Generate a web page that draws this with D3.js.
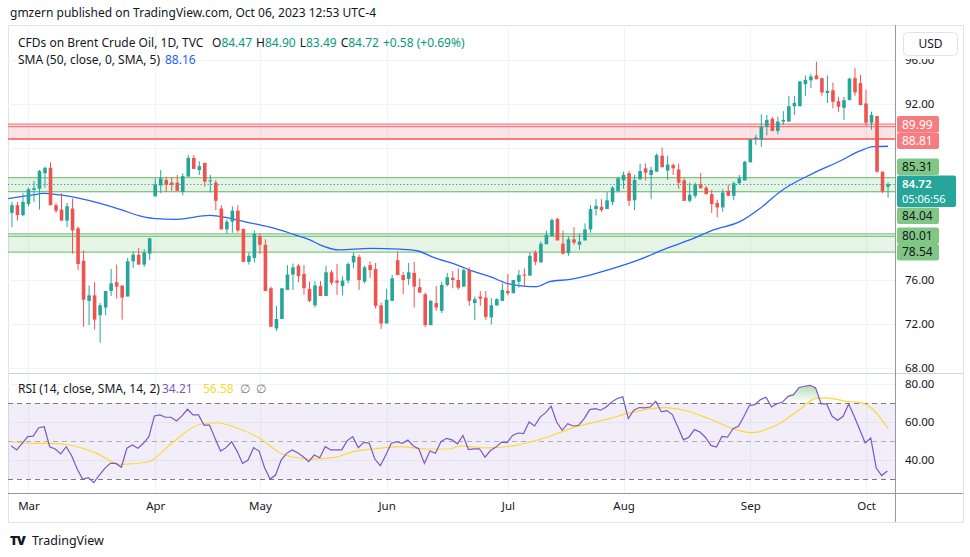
<!DOCTYPE html>
<html><head><meta charset="utf-8">
<script src="https://cdn.jsdelivr.net/npm/d3@7"></script>
<style>
body{margin:0;background:#fff;}
svg{display:block;font-family:"Noto Sans","Open Sans",sans-serif;}
</style>
</head><body>
<svg id="c" width="970" height="557"></svg>
<script>
// ---------------- DATA ----------------
const openP = [82.1,82.8,81.9,82.9,84.2,84.3,85.7,86.2,82.8,82.4,81.4,82.5,80.7,77.75,74.1,74.6,72.8,73.5,75.0,75.8,
75.5,74.5,77.7,78.3,77.4,78.4,83.6,84.6,85.1,84.85,84.85,84.0,85.4,87.1,86.0,86.65,85.0,84.85,82.5,80.6,
81.3,82.3,80.65,77.65,78.0,80.0,79.2,75.25,71.6,72.45,75.1,76.5,77.3,76.55,75.2,73.7,75.45,74.55,76.7,75.95,
75.45,75.95,77.6,78.1,75.85,77.35,77.0,73.7,72.05,74.1,77.8,76.45,76.1,76.65,75.35,74.7,71.9,73.9,73.2,75.55,
76.2,76.0,75.4,76.9,73.9,74.5,74.4,72.6,73.7,74.1,75.0,74.8,75.85,76.5,76.4,78.5,77.6,79.25,80.0,81.55,
79.3,78.45,79.7,79.2,79.6,80.6,82.45,82.65,82.45,83.1,84.1,85.05,85.7,83.25,85.15,86.15,85.55,85.85,87.3,85.95,
86.45,86.05,85.05,83.2,83.65,84.7,84.4,83.8,83.0,82.6,84.1,83.65,84.8,85.05,86.7,88.8,88.75,89.95,90.65,89.55,
90.4,90.4,91.8,91.8,93.8,94.15,94.6,94.35,93.0,93.25,92.25,91.65,92.35,94.35,93.9,92.05,90.3,90.9,85.85,84.47];
const highP = [83.1,83.1,83.9,84.4,85.0,86.0,86.3,86.7,83.0,83.9,83.0,83.4,80.85,78.7,75.5,75.8,73.9,75.0,77.0,77.4,
75.5,78.0,78.6,78.9,78.8,79.8,85.25,86.0,85.4,85.35,85.55,85.7,87.35,87.35,86.8,86.65,85.55,85.1,82.8,81.5,
82.7,82.8,80.65,78.5,80.5,80.25,79.7,75.4,73.65,75.25,77.35,77.5,77.45,77.35,75.85,75.9,75.9,77.3,76.9,77.45,
76.35,77.6,78.5,78.3,77.3,77.7,77.55,73.95,75.2,76.45,78.6,76.75,77.55,77.65,76.15,74.85,74.2,75.45,75.85,76.65,
76.8,77.05,77.05,77.15,74.5,75.0,75.0,74.35,74.35,75.7,76.55,76.0,76.9,77.05,78.5,78.7,79.5,80.5,81.6,81.65,
80.5,79.95,80.8,80.2,81.15,82.8,83.35,83.35,84.0,84.55,85.4,85.85,85.9,85.55,86.55,86.6,86.3,87.5,88.05,87.3,
86.6,86.6,85.25,84.85,84.85,85.75,84.55,84.2,83.3,84.25,84.65,84.95,85.55,86.85,88.8,89.2,91.05,91.0,90.85,90.85,
91.35,92.75,92.75,94.1,94.6,94.75,95.85,94.4,94.6,93.95,92.65,92.65,94.4,95.25,94.65,93.3,91.3,90.9,85.85,84.9];
const lowP = [80.8,81.4,81.8,82.7,83.1,82.4,84.4,82.8,82.1,81.4,80.8,78.4,76.9,71.75,71.9,71.5,70.3,72.8,74.55,74.3,
72.4,74.5,77.1,77.4,77.2,77.8,83.6,83.9,84.0,84.1,84.1,83.7,85.4,86.1,85.55,84.5,83.95,82.35,80.6,80.2,
80.3,80.3,77.6,77.4,77.6,78.35,75.0,71.75,71.35,72.45,75.1,75.1,75.8,74.65,74.0,73.5,74.55,74.55,75.55,74.65,
74.6,75.7,77.05,75.1,75.7,76.2,73.4,71.55,72.05,74.1,76.45,74.7,75.55,73.5,74.85,71.7,71.9,73.2,73.0,75.4,
75.25,75.1,75.4,73.65,72.35,73.65,72.35,71.95,73.65,74.1,74.6,74.8,75.3,75.4,76.4,77.35,77.6,79.25,79.95,79.6,
78.3,78.2,79.2,78.75,79.6,80.3,81.85,82.2,82.45,82.8,83.95,84.3,82.75,82.35,85.15,85.05,83.35,85.85,86.25,85.1,
85.55,84.3,83.2,83.05,83.45,84.3,83.8,82.1,81.7,82.2,83.65,83.25,84.65,85.05,86.7,88.3,88.1,89.15,89.55,89.25,
90.1,90.4,91.0,91.8,92.75,93.45,94.25,92.75,92.1,91.6,91.3,90.55,92.35,92.75,91.9,89.95,89.65,85.75,83.9,83.49];
const closeP = [82.8,81.9,83.1,84.25,84.35,85.9,86.2,82.8,82.3,81.4,82.7,80.5,77.45,74.2,74.6,72.4,73.7,75.0,75.7,75.4,
74.4,77.7,78.3,77.4,78.5,79.8,84.7,85.25,84.65,84.65,84.1,85.45,87.1,86.1,86.35,84.95,85.05,83.2,80.6,81.3,
82.3,80.5,77.65,78.2,80.2,79.2,75.0,71.75,72.45,75.25,76.5,77.15,76.35,75.25,74.1,75.5,74.55,76.7,75.75,75.75,
75.95,77.45,78.2,76.0,77.15,76.9,73.65,72.05,74.2,76.15,76.45,76.0,76.7,75.4,74.85,71.9,74.1,73.5,75.55,76.25,
76.0,75.3,76.9,74.1,74.25,74.3,72.65,73.7,74.25,75.1,74.8,76.0,76.45,76.4,78.2,77.65,79.3,80.1,81.45,79.6,
78.4,79.7,79.4,79.5,80.6,82.45,82.75,82.35,83.25,84.4,85.25,85.55,83.2,85.1,85.9,85.75,86.0,87.35,86.25,86.5,
86.15,84.85,83.2,83.75,84.7,84.35,83.8,82.9,82.6,83.95,83.65,84.8,85.25,86.75,88.8,88.95,89.95,90.55,89.55,90.4,
90.55,91.8,92.1,94.05,94.2,94.5,94.25,93.05,93.2,92.2,91.75,92.35,94.3,93.05,91.9,90.3,91.0,85.85,84.05,84.72];

// SMA(50): [bar index, value]
const sma50 = [[-0.7,83.4],[3.8,83.73],[5.6,83.88],[8.7,83.73],[12.3,83.43],[16,82.97],[19.6,82.43],[23.2,81.82],
[25.6,81.6],[29.9,81.52],[35.9,81.88],[39.6,81.6],[43.2,81.2],[46.8,80.8],[50.5,80.25],[54.1,79.64],[55.9,79.2],
[59.5,78.73],[65,78.88],[70.4,78.8],[73.5,78.66],[76.5,78.06],[81.3,77.27],[83.1,76.9],[86.8,76.3],[89.8,75.7],
[92.8,75.45],[95.2,75.4],[97.6,75.85],[101.3,76.06],[104.9,76.45],[108.5,76.97],[114,77.88],[118.8,78.88],
[123,79.64],[127.3,80.55],[132.1,81.3],[135.8,82.52],[139.4,84.03],[145.4,85.7],[150.3,86.82],[153.9,87.73],
[156.3,88.12],[159,88.16]];

const rsi = [47.5,45.3,48.8,52.3,52.6,57.0,57.5,47.0,45.8,43.2,47.0,42.1,35.1,29.8,30.7,28.1,32.1,35.6,38.2,38.2,
36.2,46.2,47.9,46.2,48.8,52.3,63.2,63.7,62.5,62.5,60.5,63.2,66.7,63.7,63.7,58.4,58.4,51.4,44.7,46.5,
49.6,44.7,38.2,40.0,46.5,44.7,35.9,30.0,32.1,40.0,43.5,45.3,43.8,41.7,39.1,42.6,41.2,47.0,45.3,45.3,
45.3,50.2,52.3,46.5,49.3,48.8,40.5,37.0,42.6,48.8,49.6,48.8,50.5,47.4,45.8,38.2,44.7,43.5,49.6,51.4,
50.6,48.5,52.9,45.5,45.9,45.9,41.5,45.0,46.8,49.4,49.1,52.9,54.2,53.9,60.0,57.9,62.6,64.9,68.3,60.0,
55.6,59.1,57.9,58.3,61.8,66.5,67.0,66.2,67.9,70.6,72.4,73.3,61.8,66.2,67.6,67.4,67.9,70.9,65.3,66.0,
63.9,57.4,50.6,52.0,56.0,54.7,52.0,47.7,46.8,52.4,52.0,56.5,57.7,63.0,68.8,69.1,71.8,73.0,67.9,69.6,
70.5,73.5,74.4,78.2,78.8,79.3,77.9,69.5,69.5,63.0,60.9,63.0,69.5,63.0,56.0,48.9,51.6,35.8,31.8,34.21];

// RSI-based MA (SMA 14): [bar index, value]
const rsiMA = [[0,49.6],[3.9,48.8],[6.9,48.8],[11.1,47.5],[15.4,43.5],[19.6,37.7],[24.5,38.8],[29.3,49.6],
[34.1,58.8],[37.2,59.6],[40.2,57.5],[45,51.4],[49.2,43.0],[54.1,40.5],[58.3,41.2],[62,44.4],[65.6,45.8],
[70.4,47.0],[75.3,45.8],[79.5,45.8],[81.4,47.3],[86.3,46.4],[91.2,47.6],[96.2,51.2],[102.3,57.4],[108.4,61.8],
[112.1,64.8],[118.3,67.6],[122,66.2],[126.9,61.3],[131.8,55.6],[134.2,54.4],[139.2,59.1],[142.8,66.2],
[145.9,72.4],[147.8,72.7],[151.4,70.9],[153.9,70.3],[156.4,66.2],[159,56.58]];

const priceTicks = [68,72,76,80,84,88,92,96];
const rsiTicks = [40,60,80];
const rsiLevels = [70,50,30];
const zones = [
  {low:88.81, high:89.99, kind:"res"},
  {low:84.04, high:85.31, kind:"sup"},
  {low:78.54, high:80.01, kind:"sup"}
];
const lastPrice = 84.72;
const countdown = "05:06:56";
const headerText = "gmzern published on TradingView.com, Oct 06, 2023 12:53 UTC-4";
const titleText = "CFDs on Brent Crude Oil, 1D, TVC";
const ohlcLabels = [["O","84.47"],["H","84.90"],["L","83.49"],["C","84.72"]];
const changeText = "+0.58 (+0.69%)";
const smaLegend = "SMA (50, close, 0, SMA, 5)", smaLast = "88.16";
const rsiLegend = "RSI (14, close, SMA, 14, 2)", rsiLast = "34.21", rsiMALast = "56.58";

// trading days (categories): weekdays 24 Feb 2023 – 6 Oct 2023, Good Friday closed
const dates = [];
for (let d = new Date(Date.UTC(2023,1,24)); d <= new Date(Date.UTC(2023,9,6)); d.setUTCDate(d.getUTCDate()+1)) {
  const wd = d.getUTCDay();
  if (wd === 0 || wd === 6) continue;
  if (d.getUTCMonth() === 3 && d.getUTCDate() === 7) continue;
  dates.push(new Date(d));
}

// ---------------- LAYOUT ----------------
const svg = d3.select("#c");
const plotL = 8, plotR = 895, mainT = 25, mainB = 372, rsiT = 374, rsiB = 493, axisB = 522, frameR = 963;
const UP = "#26a69a", DN = "#ef5350", GRID = "#f0f3fa", TXT = "#131722";

const x = d3.scaleLinear().domain([0, closeP.length - 1]).range([11.95, 888.05]);
const yP = d3.scaleLinear().domain([68, 92]).range([368, 104]);
const yR = d3.scaleLinear().domain([40, 80]).range([460, 384]);

const defs = svg.append("defs");
defs.append("clipPath").attr("id","clipMain").append("rect")
  .attr("x",plotL).attr("y",mainT).attr("width",plotR-plotL).attr("height",mainB-mainT);
defs.append("clipPath").attr("id","clipRsi").append("rect")
  .attr("x",plotL).attr("y",rsiT).attr("width",plotR-plotL).attr("height",rsiB-rsiT);
defs.append("clipPath").attr("id","clipOB").append("rect")
  .attr("x",plotL).attr("y",rsiT).attr("width",plotR-plotL).attr("height",yR(70)-rsiT);
defs.append("clipPath").attr("id","clipOS").append("rect")
  .attr("x",plotL).attr("y",yR(30)).attr("width",plotR-plotL).attr("height",rsiB-yR(30));
const gOB = defs.append("linearGradient").attr("id","gOB").attr("x1",0).attr("x2",0)
  .attr("gradientUnits","userSpaceOnUse").attr("y1",yR(80)).attr("y2",yR(70));
gOB.append("stop").attr("offset",0).attr("stop-color","rgba(76,175,80,0.45)");
gOB.append("stop").attr("offset",1).attr("stop-color","rgba(76,175,80,0)");
const gOS = defs.append("linearGradient").attr("id","gOS").attr("x1",0).attr("x2",0)
  .attr("gradientUnits","userSpaceOnUse").attr("y1",yR(20)).attr("y2",yR(30));
gOS.append("stop").attr("offset",0).attr("stop-color","rgba(242,54,69,0.45)");
gOS.append("stop").attr("offset",1).attr("stop-color","rgba(242,54,69,0)");

// header
svg.append("text").attr("x",10).attr("y",17).attr("font-size",12).attr("fill",TXT).text(headerText);

// frame
svg.append("rect").attr("x",plotL+0.5).attr("y",mainT+0.5).attr("width",frameR-plotL).attr("height",axisB-mainT)
  .attr("fill","none").attr("stroke","#e0e3eb");

// month starts
const monthStarts = dates.map((d,i)=>i).filter(i => i>0 && dates[i].getUTCMonth() !== dates[i-1].getUTCMonth());
const fmtMonth = d3.utcFormat("%b");

// grid
const grid = svg.append("g");
grid.selectAll(".vg").data(monthStarts).join("line")
  .attr("x1",i=>Math.round(x(i))+0.5).attr("x2",i=>Math.round(x(i))+0.5)
  .attr("y1",mainT).attr("y2",rsiB).attr("stroke",GRID);
grid.selectAll(".hg").data(priceTicks).join("line")
  .attr("x1",plotL).attr("x2",plotR).attr("y1",d=>Math.round(yP(d))+0.5).attr("y2",d=>Math.round(yP(d))+0.5)
  .attr("stroke",GRID).attr("clip-path","url(#clipMain)");
grid.selectAll(".rg").data(rsiTicks).join("line")
  .attr("x1",plotL).attr("x2",plotR).attr("y1",d=>Math.round(yR(d))+0.5).attr("y2",d=>Math.round(yR(d))+0.5)
  .attr("stroke",GRID);

// ---------- main pane ----------
const main = svg.append("g").attr("clip-path","url(#clipMain)");
zones.forEach((z,k) => {
  const col = z.kind === "res" ? "#f77c80" : "#81c784";
  const fill = z.kind === "res" ? "rgba(242,54,69,0.14)" : "rgba(76,175,80,0.14)";
  const y1 = yP(z.high), y2 = yP(z.low);
  const top = k === 1 ? y1 : y1 - 2;
  main.append("rect").attr("x",plotL).attr("y",top).attr("width",plotR-plotL).attr("height",y2-top).attr("fill",fill);
  const lines = k === 1 ? [y1, y2] : [top, y1 + 0.5, y2];
  lines.forEach((yy,j) => main.append("line").attr("x1",plotL).attr("x2",plotR).attr("y1",yy).attr("y2",yy)
    .attr("stroke",col).attr("stroke-width", (j === lines.length-1 && k === 0) ? 2 : 1.3));
});

// SMA
main.append("path").datum(sma50)
  .attr("d", d3.line().x(d=>x(d[0])).y(d=>yP(d[1])).curve(d3.curveMonotoneX))
  .attr("fill","none").attr("stroke","#2962ff").attr("stroke-width",1.3);

// candles
const bars = d3.range(closeP.length);
const cg = main.append("g");
cg.selectAll(".wick").data(bars).join("line")
  .attr("x1",i=>x(i)).attr("x2",i=>x(i))
  .attr("y1",i=>yP(highP[i])).attr("y2",i=>yP(lowP[i]))
  .attr("stroke",i=>closeP[i]>=openP[i]?UP:DN).attr("stroke-width",1);
cg.selectAll(".body").data(bars).join("rect")
  .attr("x",i=>x(i)-1.8).attr("width",3.6)
  .attr("y",i=>yP(Math.max(openP[i],closeP[i])))
  .attr("height",i=>Math.max(1,Math.abs(yP(openP[i])-yP(closeP[i]))))
  .attr("fill",i=>closeP[i]>=openP[i]?UP:DN);

// last price dotted line
main.append("line").attr("x1",plotL).attr("x2",plotR)
  .attr("y1",Math.round(yP(lastPrice))+0.5).attr("y2",Math.round(yP(lastPrice))+0.5)
  .attr("stroke",UP).attr("stroke-dasharray","1.3,2.2");

// pane separators
svg.append("line").attr("x1",plotL).attr("x2",frameR).attr("y1",mainB+1.5).attr("y2",mainB+1.5).attr("stroke","#d1d4dc");
svg.append("line").attr("x1",plotL).attr("x2",frameR).attr("y1",rsiB+0.5).attr("y2",rsiB+0.5).attr("stroke","#9598a1");
svg.append("line").attr("x1",plotR+0.5).attr("x2",plotR+0.5).attr("y1",mainT).attr("y2",axisB).attr("stroke","#9598a1");

// ---------- RSI pane ----------
const rp = svg.append("g").attr("clip-path","url(#clipRsi)");
rp.append("rect").attr("x",plotL).attr("width",plotR-plotL).attr("y",yR(70)).attr("height",yR(30)-yR(70))
  .attr("fill","rgba(126,87,194,0.1)");
rp.selectAll(".lvl").data(rsiLevels).join("line")
  .attr("x1",plotL).attr("x2",plotR).attr("y1",d=>Math.round(yR(d))+0.5).attr("y2",d=>Math.round(yR(d))+0.5)
  .attr("stroke",d=>d===50?"rgba(120,123,134,0.55)":"#787b86").attr("stroke-dasharray","5,4");
const rsiPts = rsi.map((v,i)=>[i,v]);
rp.append("path").datum(rsiPts).attr("clip-path","url(#clipOB)")
  .attr("d", d3.area().x(d=>x(d[0])-0.8).y0(yR(70)).y1(d=>yR(d[1])))
  .attr("fill","url(#gOB)");
rp.append("path").datum(rsiPts).attr("clip-path","url(#clipOS)")
  .attr("d", d3.area().x(d=>x(d[0])-0.8).y0(yR(30)).y1(d=>yR(d[1])))
  .attr("fill","url(#gOS)");
rp.append("path").datum(rsiMA)
  .attr("d", d3.line().x(d=>x(d[0])).y(d=>yR(d[1])).curve(d3.curveMonotoneX))
  .attr("fill","none").attr("stroke","#fdd835").attr("stroke-width",1.2);
rp.append("path").datum(rsiPts)
  .attr("d", d3.line().x(d=>x(d[0])-0.8).y(d=>yR(d[1])))
  .attr("fill","none").attr("stroke","#7e57c2").attr("stroke-width",1.2);

// ---------- price-scale labels (computed first so hidden tick labels can be skipped) ----------
const lblH = 16.5;
const curTop = yP(lastPrice) - 8.5, curH = 31.5;
let labels = [];
zones.forEach(z => { labels.push({v:z.high, kind:z.kind}); labels.push({v:z.low, kind:z.kind}); });
labels.forEach(l => l.c = yP(l.v));
labels.forEach(l => {
  if (l.c + lblH/2 > curTop && l.c < yP(lastPrice)) l.c = curTop - lblH/2 - 0.5;
  if (l.c - lblH/2 < curTop + curH && l.c >= yP(lastPrice)) l.c = curTop + curH + lblH/2 + 0.3;
});
labels.sort((a,b)=>a.c-b.c);
for (let it=0; it<20; it++) {
  for (let k=0; k<labels.length-1; k++) {
    const a = labels[k], b = labels[k+1];
    const gap = b.c - a.c;
    if (gap < lblH && !(a.c < curTop && b.c > curTop)) { const p = (lblH-gap)/2; a.c -= p; b.c += p; }
  }
}
const boxes = labels.map(l => [l.c - lblH/2, l.c + lblH/2]).concat([[curTop, curTop + curH]]);
const hidden = t => boxes.some(([a,b]) => yP(t) > a + 3 && yP(t) < b - 1);

// ---------- axes ----------
const axFont = g => g.selectAll("text").attr("font-size",11.5).attr("fill",TXT).attr("font-family","Noto Sans, sans-serif");
const pAx = svg.append("g").attr("transform",`translate(${plotR},0)`)
  .call(d3.axisRight(yP).tickValues(priceTicks.filter(t => !hidden(t))).tickFormat(d3.format(".2f")).tickSize(0).tickPadding(10));
pAx.select(".domain").remove(); pAx.call(axFont);
const rAx = svg.append("g").attr("transform",`translate(${plotR},0)`)
  .call(d3.axisRight(yR).tickValues(rsiTicks).tickFormat(d3.format(".2f")).tickSize(0).tickPadding(10));
rAx.select(".domain").remove(); rAx.call(axFont);
const tAx = svg.append("g").attr("transform",`translate(0,${rsiB})`)
  .call(d3.axisBottom(x).tickValues(monthStarts).tickFormat(i=>fmtMonth(dates[i])).tickSize(0).tickPadding(9));
tAx.select(".domain").remove(); tAx.call(axFont);

const lg = svg.append("g");
labels.forEach(l => {
  const bg = l.kind === "res" ? "#f77c80" : "#81c784";
  lg.append("rect").attr("x",plotR+2).attr("y",l.c-lblH/2).attr("width",42).attr("height",lblH).attr("rx",2).attr("fill",bg);
  lg.append("text").attr("x",plotR+7).attr("y",l.c+4.2).attr("font-size",12)
    .attr("fill",l.kind==="res"?"#fff":TXT).text(l.v.toFixed(2));
});
lg.append("rect").attr("x",plotR+2).attr("y",curTop).attr("width",59).attr("height",curH).attr("rx",2).attr("fill",UP);
lg.append("text").attr("x",plotR+7).attr("y",curTop+12.2).attr("font-size",11.5).attr("fill","#fff").attr("font-weight",600).text(lastPrice.toFixed(2));
lg.append("text").attr("x",plotR+7).attr("y",curTop+27.8).attr("font-size",11).attr("fill","#fff").text(countdown);

// USD box (with white margin that masks the top of the scale)
svg.append("rect").attr("x",plotR+2).attr("y",mainT+1).attr("width",frameR-plotR-2).attr("height",33).attr("fill","#fff");
svg.append("rect").attr("x",plotR+8.5).attr("y",32.5).attr("width",54).attr("height",23).attr("rx",4)
  .attr("fill","#fff").attr("stroke","#e0e3eb");
svg.append("text").attr("x",plotR+35.5).attr("y",48).attr("text-anchor","middle").attr("font-size",12).attr("fill",TXT).text("USD");

// ---------- legends ----------
const GREEN_TXT = "#089981";
const l1 = svg.append("text").attr("x",18).attr("y",47).attr("font-size",12).attr("fill",TXT);
l1.append("tspan").text(titleText);
ohlcLabels.forEach(([k,v],j) => {
  const t = l1.append("tspan").text(k);
  if (j === 0) t.attr("x",212); else t.attr("dx",4);
  l1.append("tspan").attr("fill",GREEN_TXT).text(v);
});
l1.append("tspan").attr("dx",4).attr("fill",GREEN_TXT).text(changeText);

const l2 = svg.append("text").attr("x",18).attr("y",64).attr("font-size",12).attr("fill",TXT);
l2.append("tspan").text(smaLegend);
l2.append("tspan").attr("x",165).attr("fill","#2962ff").text(smaLast);

const l3 = svg.append("text").attr("x",18).attr("y",393).attr("font-size",12).attr("fill",TXT);
l3.append("tspan").text(rsiLegend);
l3.append("tspan").attr("x",162).attr("fill","#7e57c2").text(rsiLast);
l3.append("tspan").attr("x",203).attr("fill","#fdd835").text(rsiMALast);
l3.append("tspan").attr("x",240).attr("fill","#787b86").text("\u2205");
l3.append("tspan").attr("x",256).attr("fill","#787b86").text("\u2205");

// footer logo
svg.append("text").attr("x",10).attr("y",545).attr("font-size",13).attr("font-weight",900).attr("fill",TXT).attr("letter-spacing",-1).text("TV");
svg.append("text").attr("x",32).attr("y",545).attr("font-size",12.5).attr("fill",TXT).text("TradingView");
</script>
</body></html>
